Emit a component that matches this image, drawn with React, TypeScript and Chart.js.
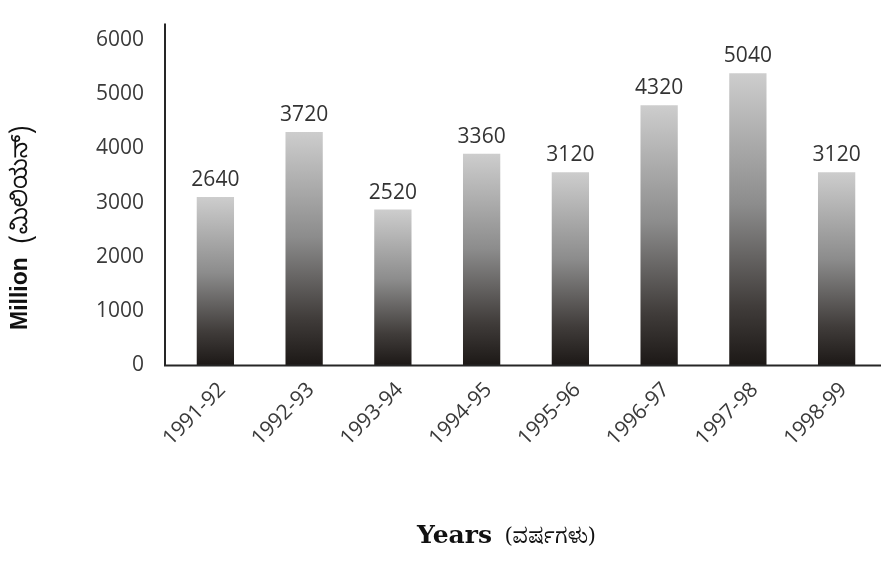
import React, { useEffect, useRef } from "react";
import { Chart, registerables } from "chart.js";

Chart.register(...registerables);

const categories = ["1991-92", "1992-93", "1993-94", "1994-95", "1995-96", "1996-97", "1997-98", "1998-99"];
// bar heights as drawn in the picture
const barHeights = [3100, 4300, 2870, 3900, 3560, 4790, 5380, 3560];
// values printed above the bars
const valueLabels = ["2640", "3720", "2520", "3360", "3120", "4320", "5040", "3120"];
const yTickValues = [0, 1000, 2000, 3000, 4000, 5000, 6000];
const yTitleMain = "Million";
const yTitleLocal = "(ಮಿಲಿಯನ್)";
const xTitleMain = "Years";
const xTitleLocal = "(ವರ್ಷಗಳು)";

const TICK_FONT = '"Open Sans", "Noto Sans", sans-serif';

const decorPlugin = {
  id: "decor",
  afterDatasetsDraw(chart: any) {
    const { ctx, chartArea, scales } = chart;
    const y0 = scales.y.getPixelForValue(0);
    ctx.save();
    // axis lines
    ctx.strokeStyle = "#262626";
    ctx.lineWidth = 2;
    ctx.beginPath();
    ctx.moveTo(chartArea.left - 6, chartArea.top - 16);
    ctx.lineTo(chartArea.left - 6, y0);
    ctx.lineTo(chartArea.right, y0);
    ctx.stroke();

    // value labels
    const meta = chart.getDatasetMeta(0);
    ctx.font = `21px ${TICK_FONT}`;
    ctx.fillStyle = "#333333";
    ctx.textAlign = "center";
    ctx.textBaseline = "alphabetic";
    meta.data.forEach((bar: any, i: number) => {
      ctx.fillText(valueLabels[i], bar.x, bar.y - 11);
    });

    // y title
    ctx.save();
    ctx.translate(27, 330);
    ctx.rotate(-Math.PI / 2);
    ctx.textAlign = "left";
    ctx.fillStyle = "#111111";
    ctx.font = 'bold 23px "Liberation Sans", Arial, sans-serif';
    ctx.fillText(yTitleMain, 0, 0);
    const w = ctx.measureText(yTitleMain).width;
    ctx.font = '23px "Noto Sans Kannada", "Noto Sans", sans-serif';
    ctx.fillText(yTitleLocal, w + 14, 0);
    ctx.restore();

    // x title
    ctx.textAlign = "left";
    ctx.fillStyle = "#111111";
    ctx.font = 'bold 25px "DejaVu Serif", serif';
    ctx.fillText(xTitleMain, 417, 543);
    const wx = ctx.measureText(xTitleMain).width;
    ctx.font = '21px "Noto Serif Kannada", "Noto Sans Kannada", "DejaVu Serif", serif';
    ctx.fillText(xTitleLocal, 417 + wx + 13, 543);
    ctx.restore();
  },
};

export default function App() {
  const ref = useRef<HTMLCanvasElement | null>(null);

  useEffect(() => {
    document.body.style.margin = "0";
    const canvas = ref.current;
    if (!canvas) return;
    const chart = new Chart(canvas, {
      type: "bar",
      data: {
        labels: categories,
        datasets: [
          {
            data: barHeights,
            barPercentage: 0.42,
            categoryPercentage: 1,
            borderWidth: 0,
            backgroundColor: (c: any) => {
              const ch = c.chart;
              if (!ch.chartArea || c.type !== "data") return "#808080";
              const y = ch.scales.y;
              const top = y.getPixelForValue(c.raw);
              const bottom = y.getPixelForValue(0);
              if (!isFinite(top) || !isFinite(bottom) || bottom - top < 1) return "#808080";
              const g = ch.ctx.createLinearGradient(0, top, 0, bottom);
              g.addColorStop(0, "#cdcdcd");
              g.addColorStop(0.45, "#8c8c8c");
              g.addColorStop(0.8, "#403c3a");
              g.addColorStop(1, "#1c1816");
              return g;
            },
          },
        ],
      },
      options: {
        responsive: false,
        animation: false,
        devicePixelRatio: 1,
        layout: { padding: { top: 20, right: 0, left: 0, bottom: 0 } },
        plugins: {
          legend: { display: false },
          tooltip: { enabled: false },
        },
        scales: {
          x: {
            grid: { display: false, drawTicks: false },
            border: { display: false },
            afterFit: (s: any) => {
              s.height = 204.5;
            },
            ticks: {
              minRotation: 45,
              maxRotation: 45,
              padding: 12,
              labelOffset: 7,
              color: "#3a3a3a",
              font: { family: TICK_FONT, size: 21 },
            },
          },
          y: {
            min: 0,
            max: 6000,
            grid: { display: false, drawTicks: false },
            border: { display: false },
            afterFit: (s: any) => {
              s.width = 171;
            },
            afterBuildTicks: (s: any) => {
              s.ticks = yTickValues.map((v) => ({ value: v }));
            },
            ticks: {
              padding: 27,
              color: "#3a3a3a",
              font: { family: TICK_FONT, size: 21 },
              callback: (v: any) => String(v),
            },
          },
        },
      },
      plugins: [decorPlugin],
    });
    return () => chart.destroy();
  }, []);

  return <canvas ref={ref} width={881} height={570} style={{ display: "block" }} />;
}
